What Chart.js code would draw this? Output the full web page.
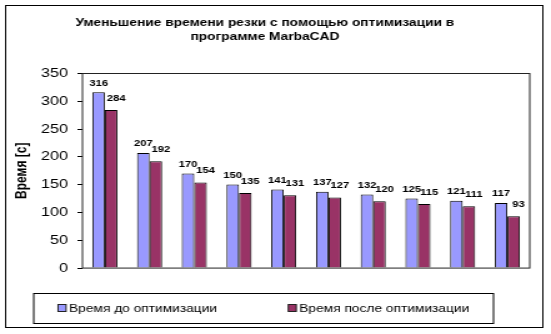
<!DOCTYPE html>
<html>
<head>
<meta charset="utf-8">
<script src="https://cdn.jsdelivr.net/npm/chart.js@4.4.1/dist/chart.umd.min.js"></script>
<style>
  html, body { margin: 0; padding: 0; background: #fff; overflow: hidden; }
  /* drawn narrow and stretched sideways, like the old office-style chart */
  #wrap { position: absolute; left: 0; top: 0; width: 441px; height: 334px; transform: scaleX(1.2494); transform-origin: 0 0; }
</style>
</head>
<body>
<div id="wrap"><canvas id="chart"></canvas></div>
<script>
// data
const categories = ["1", "2", "3", "4", "5", "6", "7", "8", "9", "10"];
const timeBefore = [316, 207, 170, 150, 141, 137, 132, 125, 121, 117];
const timeAfter = [284, 192, 154, 135, 131, 127, 120, 115, 111, 93];
const yTicks = [0, 50, 100, 150, 200, 250, 300, 350];
const seriesNames = ["Время до оптимизации", "Время после оптимизации"];
const titleLines = ["Уменьшение времени резки с помощью оптимизации в", "программе MarbaCAD"];
const yTitle = "Время [с]";

const BLUE = "#9999FF";
const PLUM = "#993366";

Chart.defaults.font.family = "'Liberation Sans', Arial, sans-serif";
Chart.defaults.color = "#000";

// value labels above bars, per series shift
const labelShift = [
  { dx: 0, dy: 6.5 },
  { dx: 4, dy: 9 },
];

const framePlugin = {
  id: "frame",
  beforeDraw(chart) {
    const { ctx } = chart;
    ctx.save();
    ctx.fillStyle = "#fff";
    ctx.fillRect(0, 0, chart.width, chart.height);
    ctx.strokeStyle = "#000";
    ctx.lineWidth = 1;
    ctx.strokeRect(4.5, 5.5, 430, 322);
    ctx.restore();
  },
  afterDatasetsDraw(chart) {
    const { ctx, chartArea: { left, top, width, height } } = chart;
    ctx.save();
    ctx.strokeStyle = "#222";
    ctx.lineWidth = 1;
    ctx.strokeRect(left, Math.round(top) + 0.5, width, height);

    ctx.font = "bold 9px 'Liberation Sans', Arial, sans-serif";
    ctx.fillStyle = "#000";
    ctx.textAlign = "center";
    ctx.textBaseline = "alphabetic";
    chart.data.datasets.forEach((ds, i) => {
      const meta = chart.getDatasetMeta(i);
      const s = labelShift[i];
      meta.data.forEach((bar, j) => {
        ctx.fillText(String(ds.data[j]), bar.x + s.dx, bar.y - s.dy);
      });
    });
    ctx.restore();
  },
  afterDraw(chart) {
    // boxed legend under the plot
    const { ctx } = chart;
    const box = { left: 27, right: 395, top: 293, bottom: 323 };
    const cx = (box.left + box.right) / 2;
    const sq = 6.4, sqH = 7, gap = 2.4, spacing = 57;
    ctx.save();
    ctx.font = "11px 'Liberation Sans', Arial, sans-serif";
    const widths = chart.data.datasets.map((ds) => ctx.measureText(ds.label).width);
    const total = widths.reduce((a, w) => a + sq + gap + w, 0) + spacing * (widths.length - 1);
    ctx.strokeStyle = "#000";
    ctx.lineWidth = 1;
    ctx.strokeRect(box.left, box.top + 0.5, box.right - box.left, box.bottom - box.top);
    let x = cx - total / 2;
    const midY = 308;
    chart.data.datasets.forEach((ds, i) => {
      ctx.fillStyle = ds.backgroundColor;
      ctx.fillRect(x, midY - sqH / 2, sq, sqH);
      ctx.strokeStyle = "#222";
      ctx.strokeRect(x, midY - sqH / 2, sq, sqH);
      ctx.fillStyle = "#000";
      ctx.textAlign = "left";
      ctx.textBaseline = "middle";
      ctx.fillText(ds.label, x + sq + gap, midY + 0.5);
      x += sq + gap + widths[i] + spacing;
    });
    ctx.restore();
  },
};

const config = {
  type: "bar",
  data: {
    labels: categories,
    datasets: [
      {
        label: seriesNames[0],
        data: timeBefore,
        backgroundColor: BLUE,
        borderColor: "#000",
        borderWidth: 1,
      },
      {
        label: seriesNames[1],
        data: timeAfter,
        backgroundColor: PLUM,
        borderColor: "#000",
        borderWidth: 1,
      },
    ],
  },
  options: {
    responsive: true,
    maintainAspectRatio: false,
    animation: false,
    layout: {
      padding: { top: 0, left: 0, right: 17, bottom: 66 },
    },
    datasets: {
      bar: {
        categoryPercentage: 0.56,
        barPercentage: 1,
      },
    },
    scales: {
      x: {
        display: false,
      },
      y: {
        min: 0,
        max: 350,
        afterBuildTicks: (scale) => {
          scale.ticks = yTicks.map((v) => ({ value: v }));
        },
        afterFit: (scale) => {
          scale.width = 66;
        },
        ticks: {
          padding: 7.5,
          color: "#000",
          font: { size: 13 },
        },
        grid: {
          drawOnChartArea: false,
          drawTicks: true,
          tickLength: 4,
          color: "#000",
        },
        border: { display: false },
        title: {
          display: true,
          text: yTitle,
          color: "#000",
          font: { size: 12, weight: "bold" },
          padding: { top: 10.4, bottom: 0 },
        },
      },
    },
    plugins: {
      legend: { display: false },
      tooltip: { enabled: false },
      title: {
        display: true,
        text: titleLines,
        color: "#000",
        font: { size: 11, weight: "bold", lineHeight: 1.36 },
        padding: { top: 15, bottom: 28.5 },
      },
    },
  },
  plugins: [framePlugin],
};

new Chart(document.getElementById("chart"), config);
</script>
</body>
</html>
